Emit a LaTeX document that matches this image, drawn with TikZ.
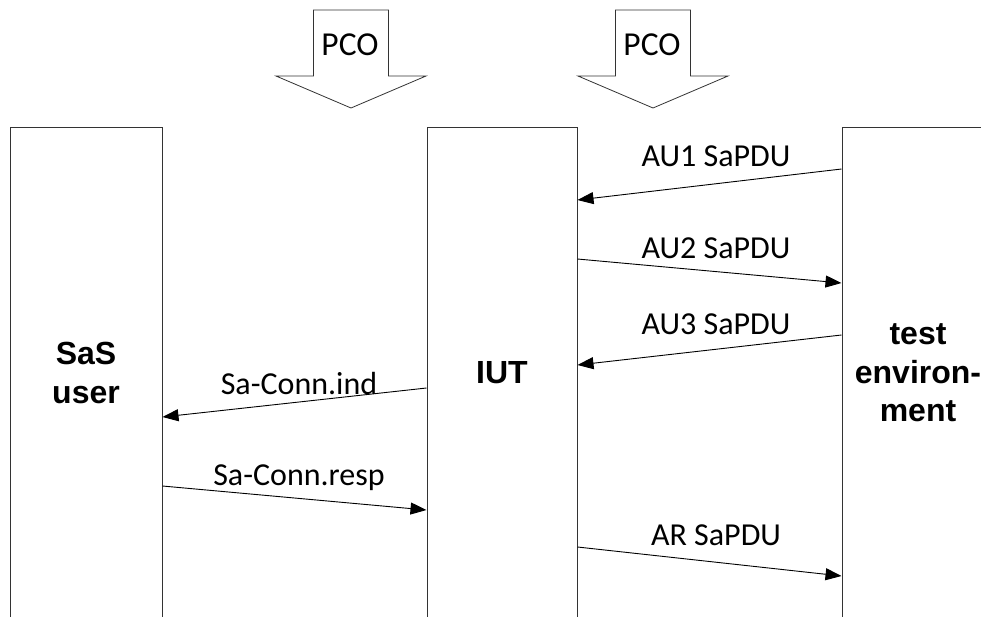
\documentclass[tikz,border=0pt]{standalone}
\usepackage{fontspec}
\setmainfont{Carlito}
\newfontfamily\arialfont{Liberation Sans}
\usetikzlibrary{arrows.meta,positioning}

\begin{document}
\begin{tikzpicture}[x=1pt,y=-1pt,>={Triangle[length=16pt,width=12pt]},
 font=\fontsize{32}{38}\selectfont,
 party/.style={draw=black!80,line width=1pt,minimum height=492pt,inner sep=0pt,
   align=center,font=\arialfont\bfseries\fontsize{32}{38.5}\selectfont},
 msg/.style={->,line width=0.9pt},
 lbl/.style={anchor=base,inner sep=0pt}]
\useasboundingbox (0,0) rectangle (981,616);
% the three parties
\node[party,minimum width=152pt] (user) at (86,373) {SaS\\user};
\node[party,minimum width=150pt] (iut) at (502,373) {IUT};
\node[party,minimum width=152pt] (env) at (918,373) {test\\environ-\\ment};
% points of control and observation
\foreach \cx/\nm in {351/pcoa,653/pcob}{
  \draw[line width=0.8pt,draw=black!80] (\cx-37.5,10) -- (\cx+37.5,10) -- (\cx+37.5,76) -- (\cx+75,76)
    -- (\cx,108) -- (\cx-75,76) -- (\cx-37.5,76) -- cycle;
  \node[lbl,font=\fontsize{33.5}{40}\selectfont] (\nm) at (\cx-1,55) {PCO};
}
% exchanged messages
\draw[msg] (env.west |- 0,169) -- (iut.east |- 0,200);
\node[lbl] (au1) at (716,166) {AU1 SaPDU};
\draw[msg] (iut.east |- 0,259) -- (env.west |- 0,283);
\node[lbl] (au2) at (716,258) {AU2 SaPDU};
\draw[msg] (env.west |- 0,335) -- (iut.east |- 0,365);
\node[lbl] (au3) at (716,334) {AU3 SaPDU};
\draw[msg] (iut.west |- 0,388) -- (user.east |- 0,417);
\node[lbl] (ind) at (299,394) {Sa-Conn.ind};
\draw[msg] (user.east |- 0,486) -- (iut.west |- 0,510);
\node[lbl] (resp) at (299,485) {Sa-Conn.resp};
\draw[msg] (iut.east |- 0,547) -- (env.west |- 0,576);
\node[lbl] (ar) at (716,545) {AR SaPDU};
\end{tikzpicture}
\end{document}
